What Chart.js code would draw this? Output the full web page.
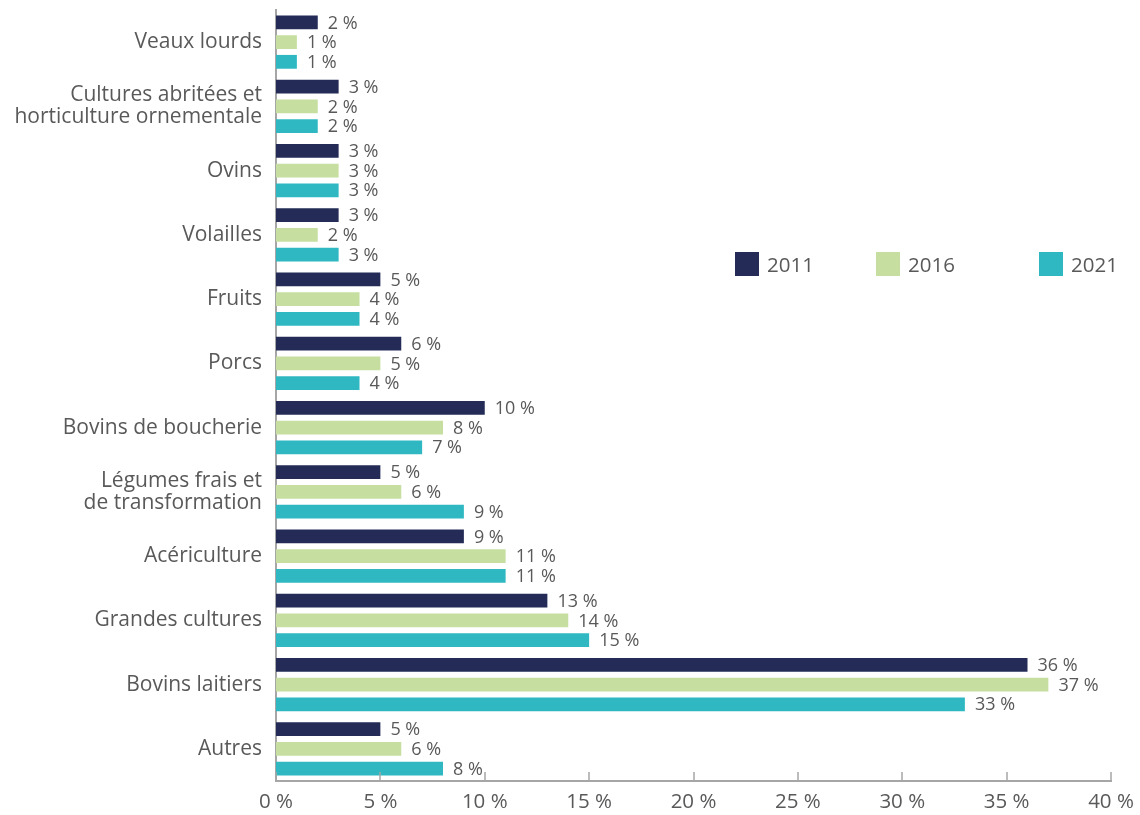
<!DOCTYPE html>
<html lang="fr">
<head>
<meta charset="utf-8">
<script src="https://cdn.jsdelivr.net/npm/chart.js@4"></script>
<style>
  html, body { margin: 0; padding: 0; background: #fff; }
  #wrap { position: relative; width: 1140px; height: 815px; }
  #legend { position: absolute; top: 252px; left: 0; font-family: "Open Sans", sans-serif; font-size: 20.5px; color: #595959; }
  .item { position: absolute; top: 0; height: 24px; display: flex; align-items: center; white-space: nowrap; }
  .sw { width: 24px; height: 24px; margin-right: 8px; }
</style>
</head>
<body>
<div id="wrap">
  <canvas id="chart" width="1140" height="815"></canvas>
  <div id="legend"></div>
</div>
<script>
// ── Data ──────────────────────────────────────
const categories = [
  'Veaux lourds',
  ['Cultures abritées et', 'horticulture ornementale'],
  'Ovins',
  'Volailles',
  'Fruits',
  'Porcs',
  'Bovins de boucherie',
  ['Légumes frais et', 'de transformation'],
  'Acériculture',
  'Grandes cultures',
  'Bovins laitiers',
  'Autres'
];
const years = ['2011', '2016', '2021'];
const values2011 = [2, 3, 3, 3, 5, 6, 10, 5, 9, 13, 36, 5];
const values2016 = [1, 2, 3, 2, 4, 5, 8, 6, 11, 14, 37, 6];
const values2021 = [1, 2, 3, 3, 4, 4, 7, 9, 11, 15, 33, 8];
const xTicks = [0, 5, 10, 15, 20, 25, 30, 35, 40];

const colors = ['#232b56', '#c6dfa0', '#2fb8c2'];
const textGrey = '#595959';
const axisGrey = '#a6a6a6';
const FONT = '"Open Sans", sans-serif';

// ── Legend (HTML, placed over the chart area) ─
const legendLeft = [735, 876, 1039];
const legendEl = document.getElementById('legend');
years.forEach((y, i) => {
  const d = document.createElement('div');
  d.className = 'item';
  d.style.left = legendLeft[i] + 'px';
  d.innerHTML = '<span class="sw" style="background:' + colors[i] + '"></span>' + y;
  legendEl.appendChild(d);
});

// ── Plugins ───────────────────────────────────
const valueLabels = {
  id: 'valueLabels',
  afterDatasetsDraw(c) {
    const ctx = c.ctx;
    ctx.save();
    ctx.font = '18px ' + FONT;
    ctx.fillStyle = textGrey;
    ctx.textAlign = 'left';
    ctx.textBaseline = 'middle';
    c.data.datasets.forEach((ds, di) => {
      c.getDatasetMeta(di).data.forEach((bar, i) => {
        ctx.fillText(ds.data[i] + ' %', bar.x + 10, bar.y + 1);
      });
    });
    ctx.restore();
  }
};

const innerTicks = {
  id: 'innerTicks',
  afterDraw(c) {
    const ctx = c.ctx;
    const sx = c.scales.x;
    const bottom = c.chartArea.bottom;
    ctx.save();
    ctx.strokeStyle = axisGrey;
    ctx.lineWidth = 1.5;
    xTicks.forEach(v => {
      const x = Math.round(sx.getPixelForValue(v));
      ctx.beginPath();
      ctx.moveTo(x, bottom);
      ctx.lineTo(x, bottom - 9);
      ctx.stroke();
    });
    ctx.restore();
  }
};

// ── Chart ─────────────────────────────────────
new Chart(document.getElementById('chart'), {
  type: 'bar',
  data: {
    labels: categories,
    datasets: [values2011, values2016, values2021].map((d, i) => ({
      label: years[i],
      data: d,
      backgroundColor: colors[i],
      categoryPercentage: 0.92,
      barPercentage: 0.7
    }))
  },
  options: {
    indexAxis: 'y',
    responsive: false,
    animation: false,
    layout: { padding: { top: 10, right: 29, bottom: 0, left: 0 } },
    plugins: {
      legend: { display: false },
      tooltip: { enabled: false }
    },
    scales: {
      x: {
        min: 0,
        max: 40,
        afterBuildTicks: s => { s.ticks = xTicks.map(v => ({ value: v })); },
        afterFit: s => { s.height = 34; s.paddingLeft = 0; s.paddingRight = 0; },
        ticks: {
          color: textGrey,
          font: { family: FONT, size: 20.5 },
          padding: 9,
          maxRotation: 0,
          callback: v => v + ' %'
        },
        grid: { display: false, drawTicks: false },
        border: { display: true, color: axisGrey, width: 2 }
      },
      y: {
        afterFit: s => { s.width = 276; s.paddingTop = 0; s.paddingBottom = 0; },
        ticks: {
          color: textGrey,
          font: { family: FONT, size: 21, lineHeight: 1.05 },
          padding: 14
        },
        grid: { display: false, drawTicks: false },
        border: { display: true, color: axisGrey, width: 2 }
      }
    }
  },
  plugins: [valueLabels, innerTicks]
});
</script>
</body>
</html>
